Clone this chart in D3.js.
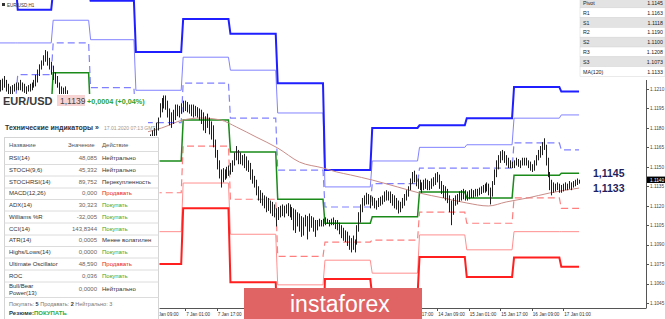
<!DOCTYPE html>
<html><head><meta charset="utf-8">
<script src="https://cdnjs.cloudflare.com/ajax/libs/d3/7.8.5/d3.min.js"></script>
<style>
body{margin:0;background:#fff;overflow:hidden}
svg{display:block}
text{font-family:"Liberation Sans",Arial,sans-serif}
</style></head>
<body><svg id="c" width="665" height="319"></svg>
<script>
// ---------- DATA (prices in pips above BASE) ----------
const BASE = 1.1, PIP = 0.0001;
const barHigh = [217,218,220,217,214,212,213,214,215,215,217,215,214,212,213,214,215,217,221,225,229,232,236,240,239,234,231,228,223,220,215,212,211,212,209,206,
200,196,192,190,186,184,182,178,176,174,172,170,168,162,156,150,146,142,140,144,148,152,156,158,160,162,164,162,160,162,163,164,162,160,162,164,166,168,170,172,175,178,180,184,188,
199,203,205,205,201,195,192,194,198,198,197,199,201,201,
200,198,198,198,197,196,195,194,192,189,191,188,185,182,171,163,155,148,149,148,150,151,153,
155,161,166,163,161,159,160,158,155,153,148,143,140,135,132,130,128,127,126,124,123,121,118,119,
120,121,120,121,122,121,119,118,117,115,114,112,111,113,112,114,112,111,109,109,110,109,110,111,
110,109,110,111,109,109,107,105,103,101,100,97,95,97,94,105,115,121,126,128,130,129,128,127,
126,124,126,127,128,131,132,131,131,129,128,126,124,123,126,129,132,135,141,146,147,144,141,140,
138,140,141,140,139,141,142,145,146,144,139,136,135,133,128,124,126,128,129,131,132,133,132,131,
132,133,132,133,133,134,135,136,137,138,137,134,139,148,155,159,162,163,162,159,157,155,154,155,
157,156,155,157,157,157,155,154,152,155,159,163,166,169,172,167,157,146,140,138,137,138,137,136,
137,138,137,139,138,139,140,141,140];
const barLow = [208,209,211,208,206,205,206,208,209,209,209,208,207,206,208,208,209,211,212,215,220,225,228,231,228,225,221,217,214,211,206,204,202,205,200,197,
192,188,184,182,178,176,174,170,168,166,164,162,158,150,144,138,134,130,128,132,136,140,144,146,150,152,154,152,150,152,154,155,154,152,154,156,158,160,162,163,165,168,170,174,178,
188,192,195,194,188,182,180,183,186,189,188,191,192,193,
192,191,189,188,189,188,186,183,178,176,180,175,171,165,157,148,141,134,138,140,141,143,144,
146,151,155,152,152,151,149,147,146,140,137,134,128,124,122,120,118,115,116,114,112,111,104,109,
111,112,111,114,112,111,109,101,99,104,100,96,97,104,94,100,103,100,96,101,104,104,104,105,
106,104,105,105,102,101,98,95,93,92,89,86,84,86,84,90,100,107,115,120,121,121,118,120,
118,117,119,120,121,123,124,124,122,120,118,117,114,115,118,120,124,127,132,137,138,135,133,132,
130,132,133,132,132,133,135,136,138,133,129,126,124,122,115,105,113,120,121,123,124,125,124,124,
125,126,126,127,127,128,129,130,130,131,128,121,127,136,142,148,153,155,153,151,149,149,149,149,
151,150,149,151,151,151,149,147,146,147,151,155,157,159,163,151,142,132,128,130,131,132,130,130,
131,132,132,133,132,134,135,136,137];

// daily pivot levels (pips above BASE), one value per day segment
const dayStart = [0, 9, 27, 46, 69, 93, 117, 141, 165, 189, 213, 237, 261, 285];
const lastBar = 294;
const lvR3 = [292, 271, 286, 278, 238.5, 264, 252.5, 214.5, 147.5, 180, 182, 187.5, 211.5, 208];
const lvR2 = [245.5, 245.5, 263, 248, 209, 234.5, 224.5, 191.5, 134.5, 154.5, 165, 167, 187.5, 190];
const lvR1 = [201.5, 221, 245.5, 211, 184, 214.5, 187.5, 147.5, 119, 137, 149, 149, 168.5, 163];
const lvP  = [178, 195.5, 222.5, 188, 154.5, 186, 161.5, 125, 106.5, 111.5, 130.5, 126, 143.5, 145];
const lvS1 = [155, 170.5, 204.5, 146, 130, 166, 125, 81, 92, 93.5, 115, 106.5, 126, 118];
const lvS2 = [132, 145, 181.5, 121, 100, 137.5, 98, 59, 78, 68, 97.5, 86, 100, 100];
const lvS3 = [109, 120.5, 163.5, 80, 75, 118, 61, 15, 63.5, 50.5, 80.5, 65, 80, 73];

// MA(120) sampled points
const maIdx = [75, 82, 93, 102, 112, 120, 130, 141, 152, 164, 171, 178, 189, 202, 213, 225, 237, 248, 257, 268, 279, 294];
const maVal = [177, 179.9, 186.1, 187.6, 186.1, 180.7, 173, 164.5, 153.7, 149.1, 146, 143.7, 139.8, 134.4, 129.8, 126, 122.1, 119.8, 122.9, 126, 129.8, 133.6];

const yTicks = [1.1045, 1.1060, 1.1075, 1.1090, 1.1105, 1.1120, 1.1135, 1.1150, 1.1165, 1.1180, 1.1195, 1.1210];
const xTickIdx = [78, 94, 110, 126, 142, 158, 174, 190, 206, 222, 238, 254, 270, 286];
const xTickLabels = ["6 Jan 09:00","7 Jan 01:00","7 Jan 17:00","8 Jan 09:00","9 Jan 01:00","9 Jan 17:00","10 Jan 09:00","13 Jan 01:00","13 Jan 17:00","14 Jan 09:00","15 Jan 01:00","15 Jan 17:00","16 Jan 09:00","17 Jan 01:00"];
const lastPriceBox = "1.1140";

const pivotNames = ["Pivot","R1","S1","R2","S2","R3","S3","MA(120)"];
const pivotValues = ["1.1145","1.1163","1.1118","1.1190","1.1100","1.1208","1.1073","1.1133"];
const sideLabels = [1.1145, 1.1133];

const indNames = ["RSI(14)","STOCH(9,6)","STOCHRSI(14)","MACD(12,26)","ADX(14)","Williams %R","CCI(14)","ATR(14)","Highs/Lows(14)","Ultimate Oscillator","ROC","Bull/Bear|Power(13)"];
const indValues = ["48,085","45,332","89,752","0,000","30,323","-32,005","143,8344","0,0005","0,0000","48,590","0,036","0,0000"];
const indActions = ["Нейтрально","Нейтрально","Перекупленность","Продавать","Покупать","Покупать","Покупать","Менее волатилен","Покупать","Продавать","Покупать","Нейтрально"];

// ---------- SCALES ----------
const svg = d3.select("#c");
const W = 646, H = 308;
const x = d3.scaleLinear().domain([0, 328]).range([0, W]);
const toPips = p => (p - BASE) / PIP;
const y = d3.scaleLinear().domain([41.15, 278.6]).range([H, 0]);

svg.append("defs").append("clipPath").attr("id","plot")
  .append("rect").attr("x",0).attr("y",0).attr("width",W).attr("height",H);
const plot = svg.append("g").attr("clip-path","url(#plot)");

// pivot lines
function levelPoints(arr){
  const pts = [];
  dayStart.forEach((s,k)=>{
    const e = k < dayStart.length-1 ? dayStart[k+1]-1 : lastBar;
    pts.push([s, arr[k]], [e, arr[k]]);
  });
  return pts;
}
const lineGen = d3.line().x(d=>x(d[0])).y(d=>y(d[1]));
const levels = [
  {a:lvS2, c:"#ff8f8f", w:1, dash:null},
  {a:lvR2, c:"#8282ff", w:1, dash:null},
  {a:lvS1, c:"#ff7f7f", w:1.2, dash:"7,4"},
  {a:lvR1, c:"#8080ff", w:1.2, dash:"7,4"},
  {a:lvS3, c:"#ff1f1f", w:2, dash:null},
  {a:lvR3, c:"#1f1fff", w:2, dash:null},
  {a:lvP,  c:"#1a8a1a", w:1.5, dash:null}
];
levels.forEach(L=>{
  plot.append("path").attr("d", lineGen(levelPoints(L.a)))
    .attr("fill","none").attr("stroke",L.c).attr("stroke-width",L.w)
    .attr("stroke-dasharray",L.dash);
});

// MA(120)
plot.append("path")
  .attr("d", d3.line().curve(d3.curveMonotoneX).x(d=>x(d[0])).y(d=>y(d[1]))(maIdx.map((v,i)=>[v, maVal[i]])))
  .attr("fill","none").attr("stroke","#c98d88").attr("stroke-width",1);

// candles (high-low bars)
plot.append("g").selectAll("line").data(barHigh).join("line")
  .attr("x1",(d,i)=>Math.round(x(i))+0.5).attr("x2",(d,i)=>Math.round(x(i))+0.5)
  .attr("y1",d=>y(d)).attr("y2",(d,i)=>y(barLow[i]))
  .attr("stroke","#1e1e1e").attr("stroke-width",1);

// axes
svg.append("line").attr("x1",0).attr("x2",W).attr("y1",H+0.5).attr("y2",H+0.5).attr("stroke","#555");
svg.append("line").attr("x1",W+0.5).attr("x2",W+0.5).attr("y1",80).attr("y2",H+0.5).attr("stroke","#555");
const yAx = svg.append("g");
yTicks.forEach(t=>{
  const yy = y(toPips(t));
  yAx.append("line").attr("x1",W).attr("x2",W+3).attr("y1",Math.round(yy)+0.5).attr("y2",Math.round(yy)+0.5).attr("stroke","#555");
  yAx.append("text").attr("x",650).attr("y",yy+1.8).attr("font-size",4.7).attr("fill","#444").text(t.toFixed(4));
});
// current price box
const yl = y(toPips(+lastPriceBox));
svg.append("rect").attr("x",647).attr("y",yl-3.2).attr("width",18).attr("height",6.4).attr("fill","#000");
svg.append("text").attr("x",650).attr("y",yl+1.8).attr("font-size",4.7).attr("fill","#fff").text(lastPriceBox);

const xAx = svg.append("g");
xTickIdx.forEach((t,k)=>{
  xAx.append("line").attr("x1",Math.round(x(t))+0.5).attr("x2",Math.round(x(t))+0.5).attr("y1",H).attr("y2",H+3).attr("stroke","#555");
  xAx.append("text").attr("x",x(t)+1).attr("y",315.5).attr("font-size",4.6).attr("fill","#333").text(xTickLabels[k]);
});

// side labels
sideLabels.forEach(v=>{
  svg.append("text").attr("x",593).attr("y",y(toPips(v))+3.5)
    .attr("font-family","'Liberation Serif',serif").attr("font-weight","bold")
    .attr("font-size",10.5).attr("fill","#1f1f5f").text(v.toFixed(4).replace(".",","));
});

// pivot table (top right)
const pt = svg.append("g");
const rowH = 9.8, top0 = -2;
pivotNames.forEach((n,k)=>{
  const ry = top0 + k*rowH;
  pt.append("rect").attr("x",580).attr("y",ry).attr("width",85).attr("height",rowH)
    .attr("fill", k%2===0 ? "#e3e3e3" : "#ffffff").attr("stroke","#d6d6d6").attr("stroke-width",0.5);
  pt.append("text").attr("x",583).attr("y",ry+rowH/2+2).attr("font-size",5.3).attr("fill","#222").text(n);
  pt.append("text").attr("x",663).attr("y",ry+rowH/2+2).attr("font-size",5.3).attr("fill","#222").attr("text-anchor","end").text(pivotValues[k]);
});

// ---------- LEFT PANEL ----------
svg.append("rect").attr("x",2).attr("y",3).attr("width",3).attr("height",3).attr("fill","#333");
svg.append("text").attr("x",7).attr("y",6.5).attr("font-size",4.5).attr("fill","#333").text("EUR/USD,H1");

svg.append("rect").attr("x",0).attr("y",94).attr("width",148).attr("height",44).attr("fill","#fff");
svg.append("rect").attr("x",0).attr("y",136).attr("width",159.5).attr("height",183).attr("fill","#fff");
svg.append("text").attr("x",3).attr("y",105).attr("font-size",11).attr("font-weight","bold").attr("fill","#3a3a3a").text("EUR/USD");
svg.append("rect").attr("x",57).attr("y",95).attr("width",28).attr("height",11).attr("fill","#f8d3d3");
svg.append("text").attr("x",60).attr("y",104).attr("font-size",8.5).attr("fill","#444").text("1,1139");
svg.append("text").attr("x",87).attr("y",104).attr("font-size",7.2).attr("font-weight","bold").attr("fill","#2ea02e").text("+0,0004 (+0,04%)");

svg.append("text").attr("x",5).attr("y",130).attr("font-size",7).attr("font-weight","bold").attr("fill","#333").text("Технические индикаторы »");
svg.append("text").attr("x",104).attr("y",130).attr("font-size",5).attr("fill","#999").text("17.01.2020 07:13 GMT");

const tb = svg.append("g");
tb.append("rect").attr("x",4.5).attr("y",137.5).attr("width",154).attr("height",190).attr("fill","#fff").attr("stroke","#d4d4d4");
tb.append("text").attr("x",9).attr("y",146.5).attr("font-size",6).attr("fill","#555").text("Название");
tb.append("text").attr("x",68).attr("y",146.5).attr("font-size",6).attr("fill","#555").text("Значение");
tb.append("text").attr("x",102).attr("y",146.5).attr("font-size",6).attr("fill","#555").text("Действие");
const seps = [151, 164, 175.5, 187.5, 199, 210.5, 222.5, 234.5, 246, 257.5, 269.5, 281.5, 297];
seps.forEach(s=>tb.append("line").attr("x1",4.5).attr("x2",158.5).attr("y1",s+0.5).attr("y2",s+0.5).attr("stroke","#dcdcdc"));
const actColor = a => a==="Покупать" ? "#35a835" : (a==="Продавать" ? "#e8252b" : "#333");
indNames.forEach((n,k)=>{
  const cy = (seps[k]+seps[k+1])/2;
  if(n.includes("|")){
    const parts = n.split("|");
    tb.append("text").attr("x",9).attr("y",cy-1.5).attr("font-size",6).attr("fill","#333").text(parts[0]);
    tb.append("text").attr("x",9).attr("y",cy+5.5).attr("font-size",6).attr("fill","#333").text(parts[1]);
  } else {
    tb.append("text").attr("x",9).attr("y",cy+2.2).attr("font-size",6).attr("fill","#333").text(n);
  }
  tb.append("text").attr("x",97).attr("y",cy+2.2).attr("font-size",6).attr("fill","#666").attr("text-anchor","end").text(indValues[k]);
  tb.append("text").attr("x",102).attr("y",cy+2.2).attr("font-size",6).attr("fill",actColor(indActions[k])).text(indActions[k]);
});
const sm = tb.append("text").attr("x",9).attr("y",306).attr("font-size",5.5).attr("fill","#777");
sm.append("tspan").text("Покупать: ");
sm.append("tspan").attr("font-weight","bold").attr("fill","#333").text("5");
sm.append("tspan").text("     Продавать: ");
sm.append("tspan").attr("font-weight","bold").attr("fill","#333").text("2");
sm.append("tspan").text("     Нейтрально: ");
sm.append("tspan").text("3");
const rz = tb.append("text").attr("x",9).attr("y",315).attr("font-size",6).attr("font-weight","bold").attr("fill","#333");
rz.append("tspan").text("Резюме:");
rz.append("tspan").attr("fill","#35a835").text("ПОКУПАТЬ");

// ---------- LOGO ----------
svg.append("rect").attr("x",244).attr("y",288).attr("width",178).attr("height",31).attr("fill","#e06464");
svg.append("text").attr("x",290).attr("y",312).attr("font-family","'Open Sans',sans-serif")
  .attr("font-size",23).attr("fill","#fff").text("instaforex");
</script></body></html>
